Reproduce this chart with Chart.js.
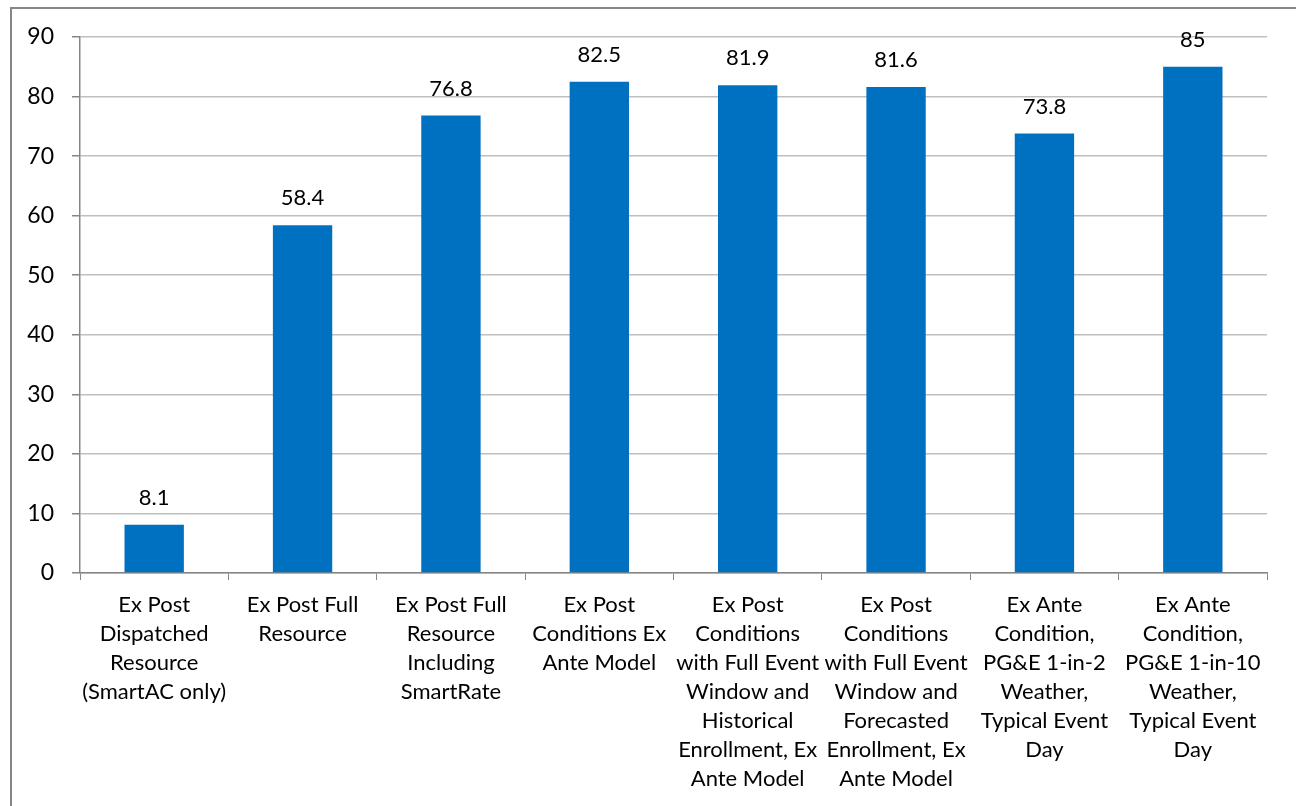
<!DOCTYPE html>
<html><head><meta charset="utf-8">
<script src="https://cdn.jsdelivr.net/npm/chart.js@4"></script>
<style>html,body{margin:0;padding:0;background:#fff;overflow:hidden}canvas{display:block}</style>
</head><body>
<canvas id="c" width="1296" height="806"></canvas>
<script>
const categories = [
  ["Ex Post","Dispatched","Resource","(SmartAC only)"],
  ["Ex Post Full","Resource"],
  ["Ex Post Full","Resource","Including","SmartRate"],
  ["Ex Post","Conditions Ex","Ante Model"],
  ["Ex Post","Conditions","with Full Event","Window and","Historical","Enrollment, Ex","Ante Model"],
  ["Ex Post","Conditions","with Full Event","Window and","Forecasted","Enrollment, Ex","Ante Model"],
  ["Ex Ante","Condition,","PG&E 1-in-2","Weather,","Typical Event","Day"],
  ["Ex Ante","Condition,","PG&E 1-in-10","Weather,","Typical Event","Day"]
];
const values = [8.1, 58.4, 76.8, 82.5, 81.9, 81.6, 73.8, 85];
const valueLabels = ["8.1","58.4","76.8","82.5","81.9","81.6","73.8","85"];
const yTicks = [0,10,20,30,40,50,60,70,80,90];

const FONT = "Lato, 'Open Sans', sans-serif";
const framePlugin = {
  id:'frame',
  beforeDraw(chart){
    const ctx = chart.ctx;
    ctx.save();
    ctx.fillStyle='#fff';
    ctx.fillRect(0,0,chart.width,chart.height);
    ctx.strokeStyle='#868686';
    ctx.lineWidth=2;
    ctx.strokeRect(11,8,1400,1000);
    ctx.restore();
  }
};
const labelPlugin = {
  id:'vlabels',
  afterDatasetsDraw(chart){
    const ctx = chart.ctx;
    const meta = chart.getDatasetMeta(0);
    ctx.save();
    ctx.font = "22px " + FONT;
    ctx.fillStyle = '#000';
    ctx.textAlign = 'center';
    ctx.textBaseline = 'middle';
    meta.data.forEach((bar,i)=>{
      ctx.fillText(valueLabels[i], bar.x, bar.y - 27);
    });
    ctx.restore();
  }
};

new Chart(document.getElementById('c'), {
  type:'bar',
  data:{ labels: categories, datasets:[{ data: values, backgroundColor:'#0070C0', borderWidth:0, categoryPercentage:1, barPercentage:0.4 }]},
  options:{
    responsive:false, animation:false,
    layout:{ padding:{ left:0, right:29, top:37, bottom:0 } },
    plugins:{ legend:{display:false}, tooltip:{enabled:false} },
    scales:{
      x:{
        offset:true,
        grid:{ display:true, drawOnChartArea:false, offset:true, tickLength:7, color:'#868686', lineWidth:1 },
        border:{ color:'#868686', width:1.5 },
        ticks:{ font:{ family:FONT, size:22, lineHeight:1.318 }, color:'#000', maxRotation:0, autoSkip:false, padding:10 },
        afterFit(s){ s.height = 233; }
      },
      y:{
        min:0, max:90,
        afterBuildTicks(s){ s.ticks = yTicks.map(v=>({value:v})); },
        grid:{ color:'#BFBFBF', lineWidth:1.5, tickLength:8, tickColor:'#868686' },
        border:{ color:'#868686', width:1.5 },
        ticks:{ font:{ family:FONT, size:23 }, color:'#000', padding:18 },
        afterFit(s){ s.width = 80; }
      }
    }
  },
  plugins:[framePlugin, labelPlugin]
});
</script>
</body></html>
